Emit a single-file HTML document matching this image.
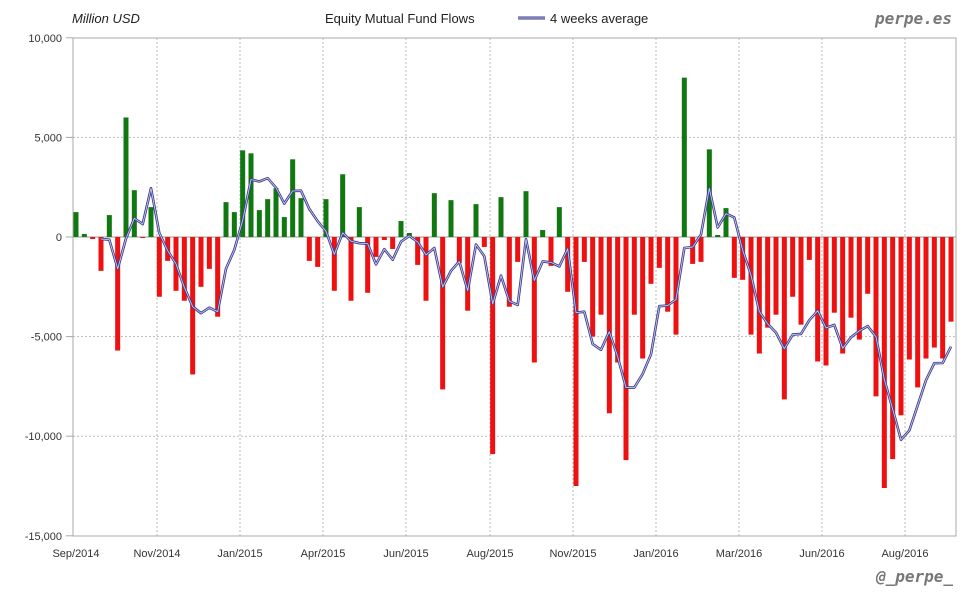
<!DOCTYPE html>
<html><head><meta charset="utf-8"><style>
body{margin:0;background:#fff;width:980px;height:600px;overflow:hidden;font-family:"Liberation Sans",sans-serif}
</style></head><body>
<svg id="s" width="980" height="600" xmlns="http://www.w3.org/2000/svg" font-family="Liberation Sans, sans-serif">
<text x="72" y="23" font-size="13" font-style="italic" fill="#222">Million USD</text>
<text x="325" y="23" font-size="13" fill="#222">Equity Mutual Fund Flows</text>
<line x1="518" y1="18" x2="545" y2="18" stroke="#3a3a8c" stroke-width="3"/>
<line x1="518" y1="18" x2="545" y2="18" stroke="#c0c0e8" stroke-width="1"/>
<text x="550" y="23" font-size="13" fill="#222">4 weeks average</text>
<text x="952" y="24" font-size="16" font-weight="bold" font-style="italic" fill="#777" text-anchor="end" font-family="DejaVu Sans Mono, Liberation Mono, monospace">perpe.es</text>
<text x="953" y="582" font-size="16" font-weight="bold" font-style="italic" fill="#777" text-anchor="end" font-family="DejaVu Sans Mono, Liberation Mono, monospace">@_perpe_</text>
<g id="grid"></g><g id="bars"></g><g id="ln"></g>
<rect x="73" y="38" width="883" height="498" fill="none" stroke="#aaa" stroke-width="1"/>
<g id="lab" font-size="11" fill="#333"></g>
</svg>
<script>
var v=[1250,150,-100,-1700,1100,-5700,6000,2350,-50,1500,-3000,-1200,-2700,-3200,-6900,-2500,-1600,-4000,1750,1250,4350,4200,1350,1900,2450,1000,3900,1950,-1200,-1500,1900,-2700,3150,-3200,1500,-2800,-1000,-150,-600,800,200,-1400,-3200,2200,-7650,1850,-1300,-3700,1650,-500,-10900,2000,-3500,-1250,2300,-6300,350,-1450,1500,-2750,-12500,-1250,-5000,-3900,-8850,-6300,-11200,-3900,-6100,-2350,-1550,-3750,-4900,8000,-1350,-1250,4400,100,1450,-2050,-2150,-4900,-5850,-4550,-3900,-8150,-3000,-4400,-1150,-6250,-6450,-3800,-5850,-4050,-5150,-2850,-8000,-12600,-11150,-8950,-6150,-7550,-6100,-5550,-6100,-4250];
var NS="http://www.w3.org/2000/svg";
function el(t,a,p,txt){var e=document.createElementNS(NS,t);for(var k in a)e.setAttribute(k,a[k]);if(txt)e.textContent=txt;document.getElementById(p).appendChild(e);return e;}
function Y(x){return 237-x*0.01992;}
function X(i){return 76+i*(951-76)/105;}
[10000,5000,0,-5000,-10000,-15000].forEach(function(t){var y=Y(t);
 if(t!=10000&&t!=-15000)el('line',{x1:73,x2:956,y1:y,y2:y,stroke:t==0?'#999':'#bbb','stroke-dasharray':t==0?'':'2,2'},'grid');
 el('line',{x1:66,x2:73,y1:y,y2:y,stroke:'#9ab'},'grid');
 el('text',{x:62,y:y+4,'text-anchor':'end'},'lab',t.toLocaleString('en-US'));});
var xs=[[76,'Sep/2014'],[157,'Nov/2014'],[240,'Jan/2015'],[323,'Apr/2015'],[406,'Jun/2015'],[490,'Aug/2015'],[573,'Nov/2015'],[656,'Jan/2016'],[739,'Mar/2016'],[822,'Jun/2016'],[905,'Aug/2016']];
xs.forEach(function(a,i){if(i>0)el('line',{x1:a[0],x2:a[0],y1:38,y2:536,stroke:'#bbb','stroke-dasharray':'2,2'},'grid');
 el('text',{x:a[0],y:557,'text-anchor':'middle'},'lab',a[1]);});
v.forEach(function(d,i){var y=Y(d),y0=237;el('rect',{x:X(i)-2.5,y:Math.min(y,y0),width:5,height:Math.max(1,Math.abs(y-y0)),fill:d>=0?'#117711':'#ee1111'},'bars');});
var pts=[];for(var i=3;i<v.length;i++){var m=(v[i]+v[i-1]+v[i-2]+v[i-3])/4;pts.push(X(i).toFixed(1)+','+Y(m).toFixed(1));}
el('polyline',{points:pts.join(' '),fill:'none',stroke:'#3a3a8c','stroke-width':2.6,'stroke-linejoin':'round'},'ln');
el('polyline',{points:pts.join(' '),fill:'none',stroke:'#c8c8ee','stroke-width':0.9,'stroke-linejoin':'round'},'ln');
</script>
</body></html>
